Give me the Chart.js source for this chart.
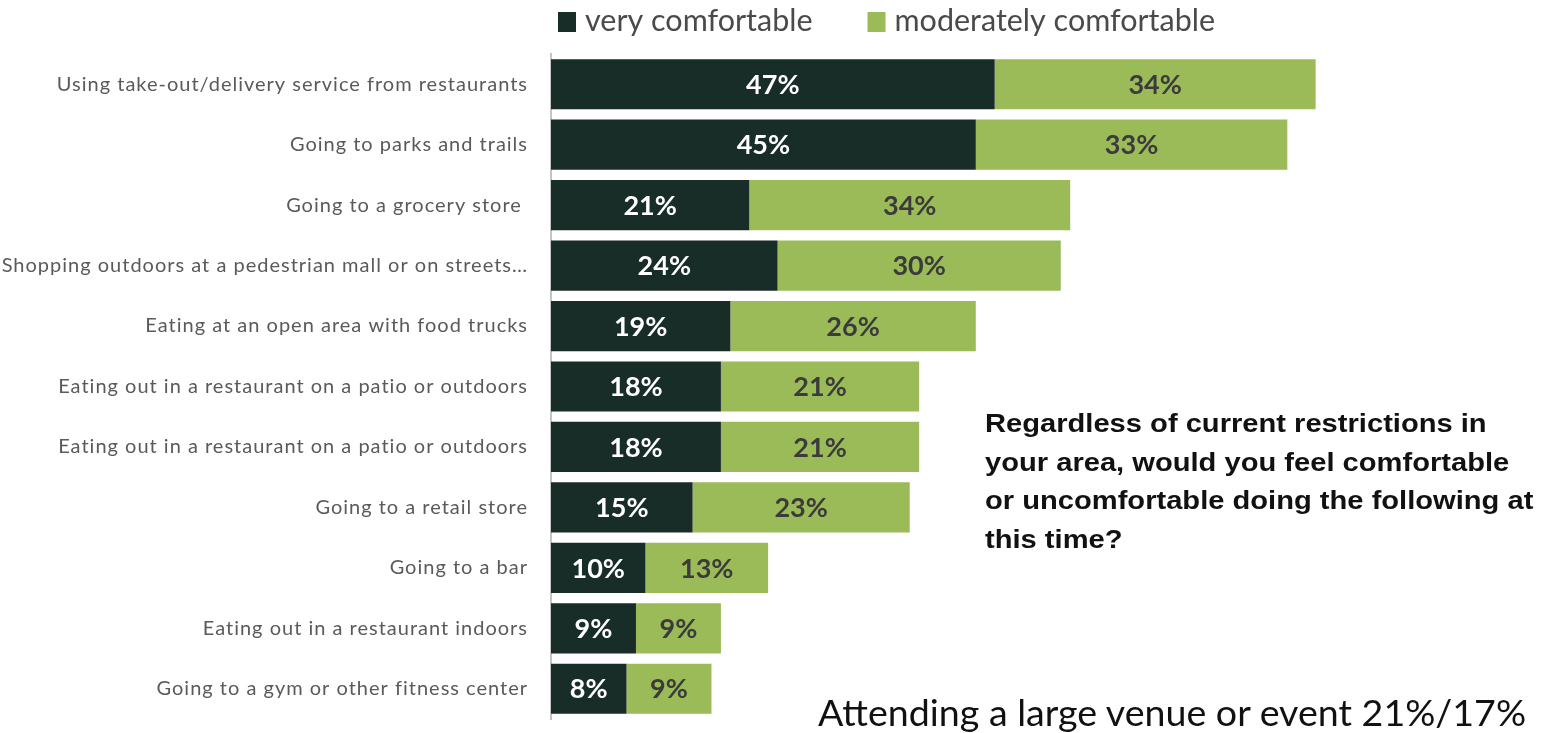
<!DOCTYPE html>
<html>
<head>
<meta charset="utf-8">
<script src="https://cdn.jsdelivr.net/npm/chart.js@4/dist/chart.umd.min.js"></script>
<style>
  body { margin: 0; background: #fff; }
  #wrap { position: relative; width: 1542px; height: 733px; overflow: hidden; }
  #question {
    position: absolute; left: 985px; top: 404px; width: 500px;
    font: bold 26px "Liberation Sans", Arial, sans-serif; line-height: 38.5px; color: #111;
    transform: scaleX(1.12); transform-origin: left top; white-space: nowrap;
  }
  #note {
    position: absolute; left: 818px; top: 689px;
    font: 37.6px Lato, sans-serif; color: #111; white-space: nowrap;
  }
</style>
</head>
<body>
<div id="wrap">
  <canvas id="myChart"></canvas>
  <div id="question">Regardless of current restrictions in<br>your area, would you feel comfortable<br>or uncomfortable doing the following at<br>this time?</div>
  <div id="note">Attending a large venue or event 21%/17%</div>
</div>
<script>
// Dữ liệu khảo sát
const activities = [
  'Using take-out/delivery service from restaurants',
  'Going to parks and trails',
  'Going to a grocery store ',
  'Shopping outdoors at a pedestrian mall or on streets…',
  'Eating at an open area with food trucks',
  'Eating out in a restaurant on a patio or outdoors',
  'Eating out in a restaurant on a patio or outdoors',
  'Going to a retail store',
  'Going to a bar',
  'Eating out in a restaurant indoors',
  'Going to a gym or other fitness center'
];
const veryComfortable = [47, 45, 21, 24, 19, 18, 18, 15, 10, 9, 8];
const moderatelyComfortable = [34, 33, 34, 30, 26, 21, 21, 23, 13, 9, 9];

const darkGreen = '#182d28';
const lightGreen = '#9bbb59';

// Giãn chữ nhãn trục cho thoáng
const spacing = {
  id: 'spacing',
  beforeDraw(chart) { chart.ctx.letterSpacing = '1px'; },
  afterDraw(chart) { chart.ctx.letterSpacing = '0px'; }
};

// Ghi phần trăm ở giữa mỗi đoạn
const barLabels = {
  id: 'barLabels',
  afterDatasetsDraw(chart) {
    const ctx = chart.ctx;
    ctx.save();
    ctx.letterSpacing = '0px';
    ctx.font = 'bold 27px Lato, sans-serif';
    ctx.textAlign = 'center';
    ctx.textBaseline = 'middle';
    chart.data.datasets.forEach((ds, i) => {
      ctx.fillStyle = i === 0 ? '#ffffff' : '#3b3b3b';
      chart.getDatasetMeta(i).data.forEach((bar, j) => {
        const p = bar.getProps(['x', 'base', 'y'], true);
        ctx.fillText(ds.data[j] + '%', (p.x + p.base) / 2, p.y + 1);
      });
    });
    ctx.restore();
  }
};

// Chú thích phía trên, canh theo mép trái vùng biểu đồ
const topLegend = {
  id: 'topLegend',
  afterDraw(chart) {
    const ctx = chart.ctx;
    let x = chart.chartArea.left + 7;
    ctx.save();
    ctx.letterSpacing = '0px';
    ctx.font = '30.5px Lato, sans-serif';
    ctx.textBaseline = 'alphabetic';
    chart.data.datasets.forEach(ds => {
      ctx.fillStyle = ds.backgroundColor;
      ctx.fillRect(x, 12, 18, 20);
      x += 27;
      ctx.fillStyle = '#4a4a4a';
      ctx.fillText(ds.label, x, 31);
      x += ctx.measureText(ds.label).width + 55;
    });
    ctx.restore();
  }
};

const config = {
  type: 'bar',
  data: {
    labels: activities,
    datasets: [
      { label: 'very comfortable', data: veryComfortable, backgroundColor: darkGreen },
      { label: 'moderately comfortable', data: moderatelyComfortable, backgroundColor: lightGreen }
    ]
  },
  options: {
    indexAxis: 'y',
    responsive: true,
    maintainAspectRatio: false,
    animation: false,
    layout: { padding: { left: 0, right: 47, top: 54, bottom: 14 } },
    barPercentage: 0.83,
    categoryPercentage: 1,
    plugins: {
      legend: { display: false },
      tooltip: { enabled: false }
    },
    scales: {
      x: {
        stacked: true,
        display: false,
        min: 0,
        max: 100
      },
      y: {
        stacked: true,
        afterFit(scale) {
          scale.width = 551;
          scale.paddingTop = 0;
          scale.paddingBottom = 0;
        },
        grid: { display: true, color: 'rgba(0,0,0,0)', drawTicks: false },
        border: { display: true, color: '#c4c4c4', width: 2 },
        ticks: {
          padding: 23,
          color: '#5a5a5a',
          font: { family: 'Lato, sans-serif', size: 20 }
        }
      }
    }
  },
  plugins: [spacing, barLabels, topLegend]
};

const myChart = new Chart(document.getElementById('myChart'), config);
</script>
</body>
</html>
